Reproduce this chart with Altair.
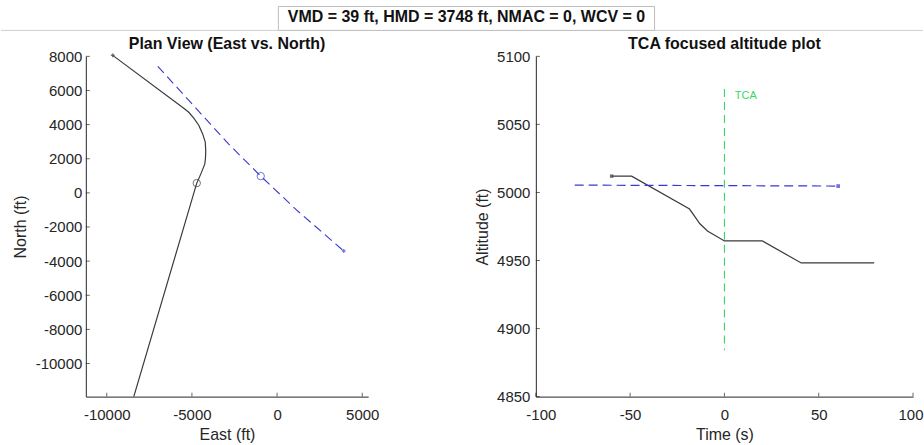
import altair as alt
import pandas as pd

FONT = "Liberation Sans"
INK = "#262626"
BLUE = "#3838d4"
GREEN = "#35d865"
OWN = "#3a3a3a"

header_text = "VMD = 39 ft, HMD = 3748 ft, NMAC = 0, WCV = 0"
left_title = "Plan View (East vs. North)"
right_title = "TCA focused altitude plot"

# ---------- Plan view (East vs North) ----------
own_east = [-9650, -5479, -5185, -4892, -4598, -4364, -4217, -4188, -4205, -4246, -4363, -4481, -4716, -8413]
own_north = [8058, 4959, 4725, 4374, 3965, 3439, 2971, 2444, 2035, 1684, 1392, 1099, 573, -11940]
own_start_east = [-9650]
own_start_north = [8058]
own_cpa_east = [-4716]
own_cpa_north = [573]

int_east = [-7005, -2838, -960, 1211, 3911]
int_north = [7415, 2854, 982, -1064, -3404]
int_cpa_east = [-960]
int_cpa_north = [982]
int_end_east = [3911]
int_end_north = [-3404]

east_ticks = [-10000, -5000, 0, 5000]
north_ticks = [8000, 6000, 4000, 2000, 0, -2000, -4000, -6000, -8000, -10000]
east_domain = [-11230, 5350]
north_domain = [-11940, 8000]

# ---------- TCA focused altitude ----------
own_t = [-59.8, -49.2, -18.5, -13.0, -9.0, 0.0, 20.1, 40.7, 79.4]
own_alt = [5012.0, 5012.0, 4987.8, 4977.0, 4971.7, 4964.4, 4964.4, 4948.2, 4948.2]
own_start_t = [-59.8]
own_start_alt = [5012.0]

int_t = [-79.4, 60.3]
int_alt = [5005.4, 5004.7]
int_end_t = [60.3]
int_end_alt = [5004.7]

tca_t = [0, 0]
tca_alt = [5076, 4884]
tca_label = ["TCA"]
tca_label_t = [5.5]
tca_label_alt = [5071]

t_ticks = [-100, -50, 0, 50, 100]
alt_ticks = [4850, 4900, 4950, 5000, 5050, 5100]
t_domain = [-100, 100]
alt_domain = [4850, 5100]

W1, W2, H = 283, 378, 341
HYPHEN = "replace(datum.label, '\u2212', '-')"

# ---------------- left panel ----------------
XL = alt.X("east:Q", scale=alt.Scale(domain=east_domain, nice=False, zero=False),
           axis=alt.Axis(values=east_ticks, format="d", labelExpr=HYPHEN, title="East (ft)",
                         labelPadding=11, titlePadding=4, labelFlush=False))
YL = alt.Y("north:Q", scale=alt.Scale(domain=north_domain, nice=False, zero=False),
           axis=alt.Axis(values=north_ticks, format="d", labelExpr=HYPHEN, title="North (ft)",
                         labelPadding=4, titlePadding=7, labelFlush=False))

own_df = pd.DataFrame({"east": own_east, "north": own_north, "i": range(len(own_east))})
int_df = pd.DataFrame({"east": int_east, "north": int_north, "i": range(len(int_east))})

own_line = alt.Chart(own_df).mark_line(color=OWN, strokeWidth=1.2).encode(x=XL, y=YL, order="i:Q")
int_line = alt.Chart(int_df).mark_line(color=BLUE, strokeWidth=1.1, strokeDash=[9, 5]).encode(x=XL, y=YL, order="i:Q")
own_cpa = alt.Chart(pd.DataFrame({"east": own_cpa_east, "north": own_cpa_north})).mark_point(
    shape="circle", size=55, filled=False, color=OWN, strokeWidth=1).encode(x=XL, y=YL)
int_cpa = alt.Chart(pd.DataFrame({"east": int_cpa_east, "north": int_cpa_north})).mark_point(
    shape="circle", size=55, filled=False, color=BLUE, strokeWidth=1).encode(x=XL, y=YL)
own_st = alt.Chart(pd.DataFrame({"east": own_start_east, "north": own_start_north})).mark_point(
    shape="cross", size=14, filled=True, color=OWN).encode(x=XL, y=YL)
int_en = alt.Chart(pd.DataFrame({"east": int_end_east, "north": int_end_north})).mark_point(
    shape="cross", size=14, filled=True, color=BLUE).encode(x=XL, y=YL)

xt_left = alt.Chart(pd.DataFrame({"east": east_ticks})).mark_tick(
    orient="vertical", size=4, thickness=1, color=INK).encode(x=XL, y=alt.value(H - 2))
yt_left = alt.Chart(pd.DataFrame({"north": north_ticks})).mark_tick(
    orient="horizontal", size=4, thickness=1, color=INK).encode(y=YL, x=alt.value(2))

dummy = pd.DataFrame({"k": [0]})
header_line = alt.Chart(dummy).mark_rule(color="#cfcfcf", strokeWidth=1).encode(
    x=alt.value(-85), x2=alt.value(839), y=alt.value(-26))
header_box = alt.Chart(dummy).mark_rect(fill="white", stroke="#bdbdbd", strokeWidth=1).encode(
    x=alt.value(193), x2=alt.value(570), y=alt.value(-50), y2=alt.value(-26))
header = alt.Chart(dummy).mark_text(
    text=header_text, font=FONT, fontSize=16, fontWeight="bold", color="#111111",
    align="center", baseline="middle").encode(x=alt.value(381.5), y=alt.value(-39))
ltitle = alt.Chart(dummy).mark_text(
    text=left_title, font=FONT, fontSize=16, fontWeight="bold", color="#111111",
    align="center", baseline="middle").encode(x=alt.value(W1 / 2), y=alt.value(-12))

left = alt.layer(
    header_line, header_box, header, ltitle,
    own_line, int_line, own_cpa, int_cpa, own_st, int_en, xt_left, yt_left
).properties(width=W1, height=H)

# ---------------- right panel ----------------
XR = alt.X("t:Q", scale=alt.Scale(domain=t_domain, nice=False, zero=False),
           axis=alt.Axis(values=t_ticks, format="d", labelExpr=HYPHEN, title="Time (s)",
                         labelPadding=11, titlePadding=4, labelFlush=True, labelFlushOffset=10))
YR = alt.Y("altitude:Q", scale=alt.Scale(domain=alt_domain, nice=False, zero=False),
           axis=alt.Axis(values=alt_ticks, format="d", title="Altitude (ft)",
                         labelPadding=6, titlePadding=6, labelFlush=False))

own_r = pd.DataFrame({"t": own_t, "altitude": own_alt, "i": range(len(own_t))})
int_r = pd.DataFrame({"t": int_t, "altitude": int_alt, "i": range(len(int_t))})
tca_r = pd.DataFrame({"t": tca_t, "altitude": tca_alt, "i": range(len(tca_t))})

tca_line = alt.Chart(tca_r).mark_line(color=GREEN, strokeWidth=1.1, strokeDash=[8, 5]).encode(x=XR, y=YR, order="i:Q")
own_line_r = alt.Chart(own_r).mark_line(color=OWN, strokeWidth=1.2).encode(x=XR, y=YR, order="i:Q")
int_line_r = alt.Chart(int_r).mark_line(color=BLUE, strokeWidth=1.2, strokeDash=[9, 5]).encode(x=XR, y=YR, order="i:Q")
own_st_r = alt.Chart(pd.DataFrame({"t": own_start_t, "altitude": own_start_alt})).mark_point(
    shape="square", size=12, filled=True, color=OWN).encode(x=XR, y=YR)
int_en_r = alt.Chart(pd.DataFrame({"t": int_end_t, "altitude": int_end_alt})).mark_point(
    shape="square", size=14, filled=True, color=BLUE).encode(x=XR, y=YR)
tca_txt = alt.Chart(pd.DataFrame({"t": tca_label_t, "altitude": tca_label_alt, "label": tca_label})).mark_text(
    font=FONT, fontSize=11, color=GREEN, align="left", baseline="middle").encode(x=XR, y=YR, text="label:N")

xt_right = alt.Chart(pd.DataFrame({"t": t_ticks})).mark_tick(
    orient="vertical", size=4, thickness=1, color=INK).encode(x=XR, y=alt.value(H - 2))
yt_right = alt.Chart(pd.DataFrame({"altitude": alt_ticks})).mark_tick(
    orient="horizontal", size=4, thickness=1, color=INK).encode(y=YR, x=alt.value(2))
rtitle = alt.Chart(dummy).mark_text(
    text=right_title, font=FONT, fontSize=16, fontWeight="bold", color="#111111",
    align="center", baseline="middle").encode(x=alt.value(W2 / 2), y=alt.value(-12))

right = alt.layer(
    rtitle, tca_line, own_line_r, int_line_r, own_st_r, int_en_r, tca_txt, xt_right, yt_right
).properties(width=W2, height=H)

chart = alt.hconcat(left, right, spacing=168, bounds="flush").properties(
    padding={"left": 0, "top": 5, "right": 0, "bottom": 0},
    background="white",
).configure_view(
    stroke="transparent"
).configure_axis(
    grid=False, ticks=False, domainColor=INK, domainWidth=1,
    labelFont=FONT, labelFontSize=15, labelColor=INK,
    titleFont=FONT, titleFontSize=16, titleFontWeight="normal", titleColor=INK,
)

chart.save("out.html", embed_options={"renderer": "svg", "actions": False})
